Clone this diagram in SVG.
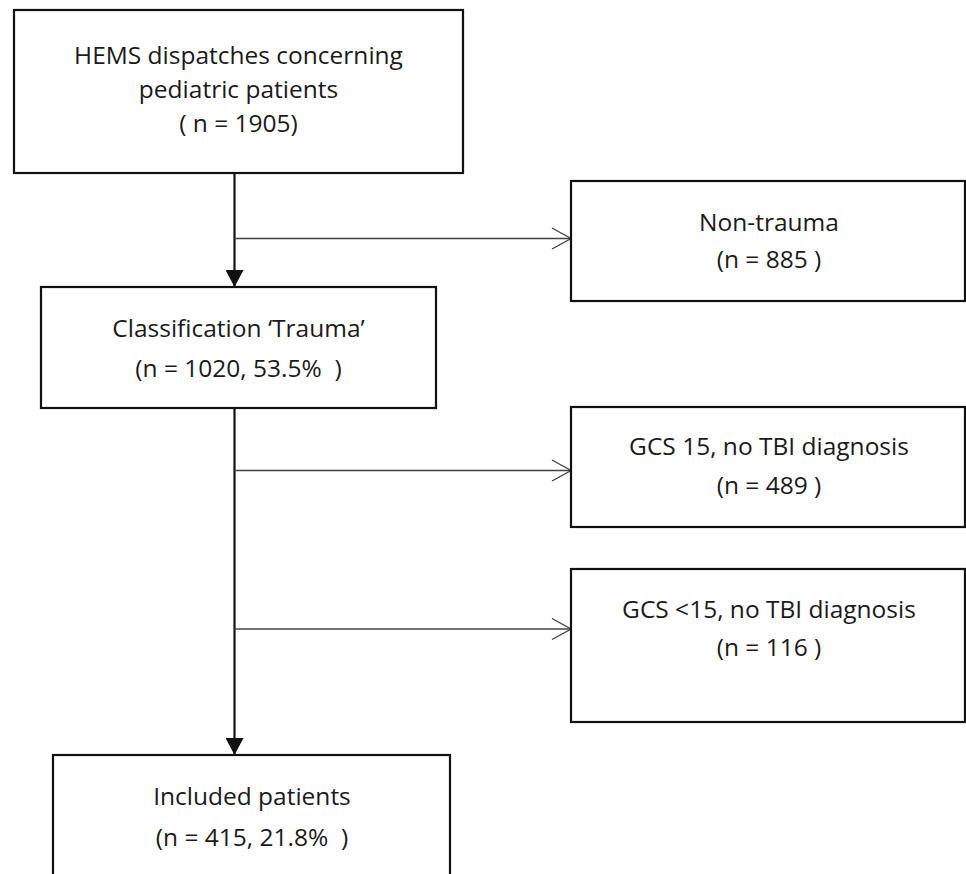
<svg xmlns="http://www.w3.org/2000/svg" width="966" height="874" viewBox="0 0 966 874">
<style>
.box{fill:#fff;stroke:#111;stroke-width:2.2}
.t{font-family:"Open Sans","Noto Sans","Liberation Sans",sans-serif;font-size:24.5px;fill:#1a1a1a;text-anchor:middle;white-space:pre}
.main{stroke:#111;stroke-width:2.2;fill:none}
.branch{stroke:#444;stroke-width:1.3;fill:none}
</style>
<defs>
<marker id="solid" markerUnits="userSpaceOnUse" markerWidth="18" markerHeight="18" viewBox="0 0 18 18" refX="17" refY="9" orient="auto">
<path d="M0,0 L17,9 L0,18 Z" fill="#111"/>
</marker>
<marker id="open" markerUnits="userSpaceOnUse" markerWidth="22" markerHeight="24" viewBox="0 0 22 24" refX="20" refY="12" orient="auto">
<path d="M1,1.5 L20,12 L1,22.5" fill="none" stroke="#444" stroke-width="1.4"/>
</marker>
</defs>
<rect width="966" height="874" fill="#fff"/>
<g id="connectors">
<line class="main" x1="234.5" y1="173" x2="234.5" y2="287" marker-end="url(#solid)"/>
<line class="branch" x1="234.5" y1="238.5" x2="571" y2="238.5" marker-end="url(#open)"/>
<line class="main" x1="234.5" y1="408" x2="234.5" y2="755" marker-end="url(#solid)"/>
<line class="branch" x1="234.5" y1="470.5" x2="571" y2="470.5" marker-end="url(#open)"/>
<line class="branch" x1="234.5" y1="629" x2="571" y2="629" marker-end="url(#open)"/>
</g>
<g id="hems">
<rect class="box" x="14" y="10" width="449" height="163"/>
<text class="t" x="238.5" y="64">HEMS dispatches concerning</text>
<text class="t" x="238.5" y="98">pediatric patients</text>
<text class="t" x="238.5" y="132">( n = 1905)</text>
</g>
<g id="nontrauma">
<rect class="box" x="571" y="181" width="394" height="120"/>
<text class="t" x="769" y="231">Non-trauma</text>
<text class="t" x="769" y="268">(n = 885 )</text>
</g>
<g id="trauma">
<rect class="box" x="41" y="287" width="395" height="121"/>
<text class="t" x="238.5" y="337">Classification ‘Trauma’</text>
<text class="t" x="238.5" y="377" xml:space="preserve">(n = 1020, 53.5%  )</text>
</g>
<g id="gcs15">
<rect class="box" x="571" y="407" width="394" height="120"/>
<text class="t" x="769" y="455">GCS 15, no TBI diagnosis</text>
<text class="t" x="769" y="494">(n = 489 )</text>
</g>
<g id="gcslt15">
<rect class="box" x="571" y="569" width="394" height="153"/>
<text class="t" x="769" y="618">GCS &lt;15, no TBI diagnosis</text>
<text class="t" x="769" y="656">(n = 116 )</text>
</g>
<g id="included">
<rect class="box" x="53" y="755" width="397" height="140"/>
<text class="t" x="252" y="805">Included patients</text>
<text class="t" x="252" y="846" xml:space="preserve">(n = 415, 21.8%  )</text>
</g>
</svg>
